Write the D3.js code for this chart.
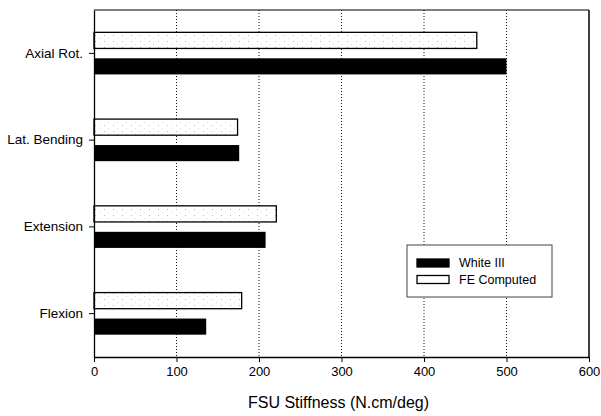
<!DOCTYPE html>
<html>
<head>
<meta charset="utf-8">
<script src="https://cdn.jsdelivr.net/npm/d3@7"></script>
<style>
  body { margin: 0; background: #fff; }
  text { font-family: "Liberation Sans", Arial, sans-serif; fill: #000; }
</style>
</head>
<body>
<div id="chart-area"></div>
<script>
// Data
const categories = ['Axial Rot.', 'Lat. Bending', 'Extension', 'Flexion'];
const series = ['FE Computed', 'White III'];
const feComputed = [464, 174, 221, 179];
const whiteIII = [500, 176, 208, 136];
const xTicks = [0, 100, 200, 300, 400, 500, 600];

const W = 601, H = 416;
const margin = {top: 10, right: 12, bottom: 59, left: 94};
const wGraph = W - margin.left - margin.right;
const hGraph = H - margin.top - margin.bottom;

const svg = d3.select('#chart-area')
  .append('svg')
  .attr('width', W)
  .attr('height', H);

// sparse stipple for the FE bars
const pat = svg.append('defs').append('pattern')
  .attr('id', 'stipple')
  .attr('patternUnits', 'userSpaceOnUse')
  .attr('width', 9).attr('height', 6);
pat.append('rect').attr('width', 9).attr('height', 6).attr('fill', '#fff');
pat.append('rect').attr('x', 1).attr('y', 1).attr('width', 1).attr('height', 1).attr('fill', '#bbb');
pat.append('rect').attr('x', 5).attr('y', 4).attr('width', 1).attr('height', 1).attr('fill', '#ddd');

const graph = svg.append('g')
  .attr('transform', `translate(${margin.left}, ${margin.top})`);

const xScale = d3.scaleLinear()
  .domain([0, 600])
  .range([0, wGraph]);

const yScale = d3.scaleBand()
  .domain(categories)
  .range([0, hGraph]);

const inner = d3.scaleBand()
  .domain(series)
  .range([0, yScale.bandwidth()])
  .paddingInner(0.38)
  .paddingOuter(0.86);

// dotted vertical grid
graph.append('g')
  .selectAll('line')
  .data(xTicks.slice(1, -1))
  .enter()
  .append('line')
  .attr('x1', d => xScale(d))
  .attr('x2', d => xScale(d))
  .attr('y1', 0)
  .attr('y2', hGraph)
  .attr('stroke', '#111')
  .attr('stroke-width', 1)
  .attr('stroke-dasharray', '1,2');

// bars
const rows = categories.map((c, i) => ({cat: c, fe: feComputed[i], white: whiteIII[i]}));

graph.selectAll('rect.fe')
  .data(rows)
  .enter()
  .append('rect')
  .attr('class', 'fe')
  .attr('x', xScale(0))
  .attr('y', d => yScale(d.cat) + inner('FE Computed'))
  .attr('width', d => xScale(d.fe))
  .attr('height', inner.bandwidth())
  .attr('fill', 'url(#stipple)')
  .attr('stroke', '#000')
  .attr('stroke-width', 1.3);

graph.selectAll('rect.white')
  .data(rows)
  .enter()
  .append('rect')
  .attr('class', 'white')
  .attr('x', xScale(0))
  .attr('y', d => yScale(d.cat) + inner('White III'))
  .attr('width', d => xScale(d.white))
  .attr('height', inner.bandwidth())
  .attr('fill', '#000');

// frame top / right
graph.append('line')
  .attr('x1', 0).attr('x2', wGraph).attr('y1', 0).attr('y2', 0)
  .attr('stroke', '#000').attr('stroke-width', 1.2);
graph.append('line')
  .attr('x1', wGraph).attr('x2', wGraph).attr('y1', 0).attr('y2', hGraph)
  .attr('stroke', '#000').attr('stroke-width', 1.5);

// X axis
const xAxisCall = d3.axisBottom(xScale)
  .tickValues(xTicks)
  .tickSize(5)
  .tickSizeOuter(0);
const xAxis = graph.append('g')
  .attr('class', 'x-axis')
  .attr('transform', `translate(0, ${hGraph})`)
  .call(xAxisCall);
xAxis.select('.domain').attr('stroke-width', 1.3);
xAxis.selectAll('text')
  .attr('font-size', '13px')
  .attr('y', 10)
  .attr('fill', '#000');

// Y axis
const yAxisCall = d3.axisLeft(yScale)
  .tickSize(5)
  .tickSizeOuter(0)
  .tickPadding(6);
const yAxis = graph.append('g')
  .attr('class', 'y-axis')
  .call(yAxisCall);
yAxis.select('.domain').attr('stroke-width', 1.3);
yAxis.selectAll('text')
  .attr('font-size', '13.5px')
  .attr('fill', '#000');

// X axis label
graph.append('text')
  .attr('x', wGraph / 2 - 3)
  .attr('y', hGraph + 51)
  .attr('font-size', '16px')
  .attr('text-anchor', 'middle')
  .text('FSU Stiffness (N.cm/deg)');

// Legend
const legend = svg.append('g')
  .attr('transform', 'translate(407, 245)');
legend.append('rect')
  .attr('width', 145).attr('height', 52)
  .attr('fill', '#fff')
  .attr('stroke', '#444')
  .attr('stroke-width', 1);

const legendItems = [
  {name: 'White III', fill: '#000'},
  {name: 'FE Computed', fill: '#fff'}
];
legendItems.forEach((d, i) => {
  legend.append('rect')
    .attr('x', 10)
    .attr('y', 14 + i * 16.5)
    .attr('width', 32)
    .attr('height', 8)
    .attr('fill', d.fill)
    .attr('stroke', '#000')
    .attr('stroke-width', 1.3);
  legend.append('text')
    .attr('x', 52)
    .attr('y', 22 + i * 16.5)
    .attr('font-size', '12.5px')
    .text(d.name);
});
</script>
</body>
</html>
